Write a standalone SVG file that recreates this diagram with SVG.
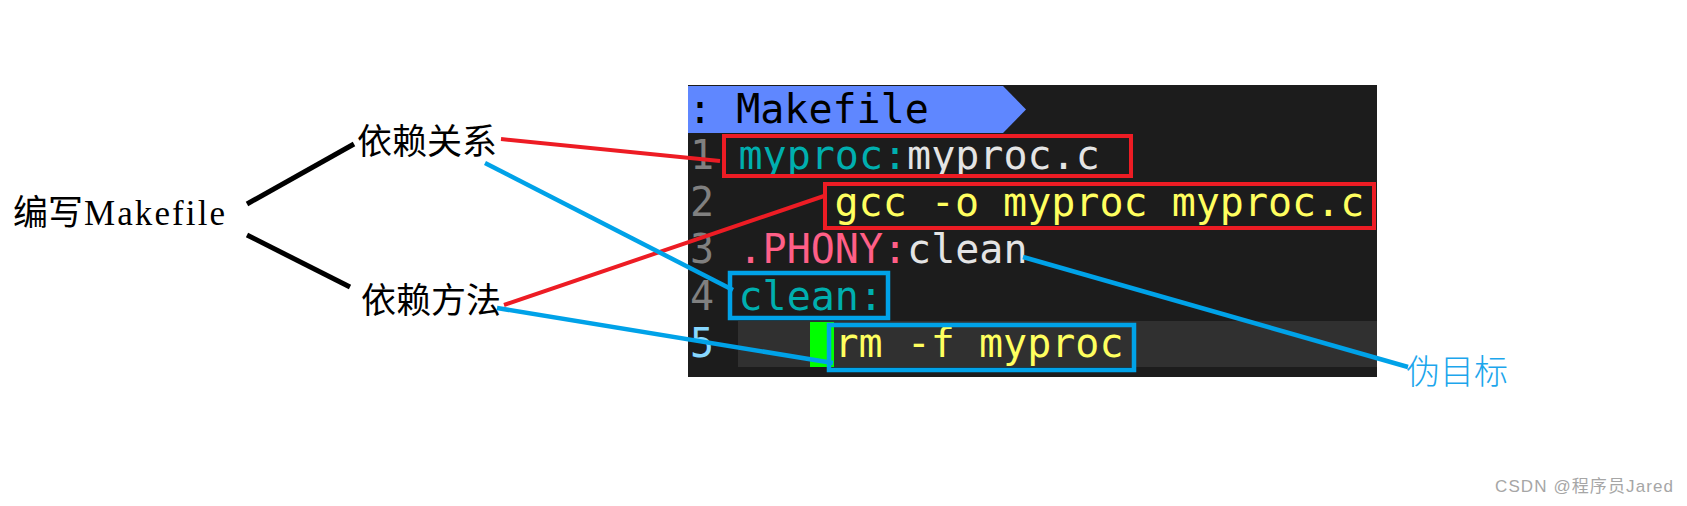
<svg xmlns="http://www.w3.org/2000/svg" width="1687" height="506" viewBox="0 0 1687 506">
<style>
.lbl{font-family:"Liberation Serif","Noto Sans CJK SC",serif;font-size:35px;fill:#000}
.code{font-family:"DejaVu Sans Mono","Liberation Mono",monospace;font-size:40px;white-space:pre}
.ln{fill:#808080}
.teal{fill:#00afaf}
.wh{fill:#e4e4e4}
.yel{fill:#ffff5f}
.pink{fill:#ff5f87}
.blk{stroke:#000;stroke-width:5;fill:none}
.red{stroke:#ed1c24;stroke-width:4;fill:none}
.blue{stroke:#00a2e8;stroke-width:4.5;fill:none}
</style>
<rect width="1687" height="506" fill="#fff"/>
<g id="terminal">
<rect x="688" y="85" width="689" height="292" fill="#1c1c1c"/>
<polygon points="688,86 1003,86 1026,109.5 1003,133 688,133" fill="#5f87ff"/>
<rect x="738" y="321" width="639" height="46" fill="#303030"/>
<rect x="810" y="322" width="24" height="45" fill="#00ff00"/>
<text class="code" x="688" y="123" fill="#000">: Makefile</text>
<text class="code" y="169"><tspan class="ln" x="690">1</tspan><tspan class="teal" x="738.5">myproc:</tspan><tspan class="wh">myproc.c</tspan></text>
<text class="code" y="216"><tspan class="ln" x="690">2</tspan><tspan class="yel" x="834.5">gcc -o myproc myproc.c</tspan></text>
<text class="code" y="263"><tspan class="ln" x="690">3</tspan><tspan class="pink" x="738.5">.PHONY:</tspan><tspan class="wh">clean</tspan></text>
<text class="code" y="310"><tspan class="ln" x="690">4</tspan><tspan class="teal" x="738.5">clean:</tspan></text>
<text class="code" y="357"><tspan x="690" fill="#87d7ff">5</tspan><tspan class="yel" x="834.5">rm -f myproc</tspan></text>
</g>
<g id="boxes">
<rect class="red" x="724" y="136" width="407" height="40"/>
<rect class="red" x="825" y="184" width="549" height="44"/>
<rect class="blue" x="730" y="273" width="158" height="45"/>
<rect class="blue" x="829" y="325" width="305" height="45"/>
</g>
<g id="node-root"><text class="lbl" y="225"><tspan x="13">编写</tspan><tspan x="84" textLength="141" lengthAdjust="spacing">Makefile</tspan></text></g>
<g id="node-dep"><text class="lbl" x="357" y="154">依赖关系</text></g>
<g id="node-method"><text class="lbl" x="361" y="313">依赖方法</text></g>
<g id="node-phony"><text x="1406" y="384" style="font-family:'Noto Sans CJK SC',sans-serif;font-size:34px;fill:#1ca6ec;font-weight:300">伪目标</text></g>
<g id="connectors">
<line class="blk" x1="247" y1="204" x2="354" y2="144"/>
<line class="blk" x1="247" y1="235" x2="350" y2="287"/>
<line class="red" x1="501" y1="139" x2="720" y2="161"/>
<line class="red" x1="504" y1="305" x2="824" y2="196"/>
<line class="blue" x1="485" y1="163" x2="733" y2="290"/>
<line class="blue" x1="497" y1="308" x2="833" y2="363"/>
<line class="blue" x1="1023" y1="257" x2="1408" y2="367"/>
</g>
<text x="1495" y="492" textLength="178" style="font-family:'Liberation Sans','Noto Sans CJK SC',sans-serif;font-size:17px;fill:#a6a6a6">CSDN @程序员Jared</text>
</svg>
